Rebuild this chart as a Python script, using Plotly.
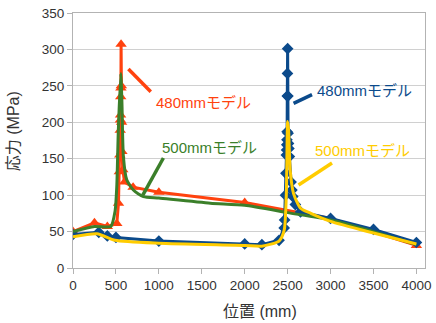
import plotly.graph_objects as go

# ---- data ----
# 480mm model, load near 560 mm (orange, triangles)
x_or = [0, 250, 400, 510, 530, 540, 545, 550, 552, 554, 556, 558, 560, 563, 566, 570, 580, 600, 700, 1000, 2000, 3000, 4000]
y_or = [50, 62, 57, 61, 89, 132, 155, 189, 203, 210, 235, 247, 307, 250, 200, 160, 135, 118, 111, 104, 90, 68, 31]

# 500mm model, load near 560 mm (green, smooth line)
x_gr = [0, 250, 440, 490, 510, 528, 556, 568, 587, 626, 703, 820, 1000, 1600, 2000, 2500, 3000, 3500, 4000]
y_gr = [50, 57, 57, 78, 112, 189, 267, 235, 153, 121, 107, 98, 96, 89, 86, 76, 66, 50, 32]

# 480mm model, load near 2500 mm (blue, diamonds)
x_bl = [0, 300, 400, 500, 1000, 2000, 2200, 2400, 2460, 2465, 2475, 2480, 2485, 2488, 2490, 2492, 2494, 2496, 2498, 2500,
        2503, 2505, 2510, 2515, 2520, 2540, 2550, 2560, 2590, 2650, 3000, 3500, 4000]
y_bl = [46, 49, 44, 42, 37, 33, 32, 38, 55, 66, 100, 130, 155, 162, 169, 176, 187, 236, 267, 301,
        236, 185, 171, 164, 153, 118, 107, 98, 87, 77, 68, 53, 35]

# 500mm model, load near 2500 mm (yellow, smooth line)
x_ye = [0, 280, 490, 1000, 2000, 2200, 2400, 2460, 2484, 2500, 2511, 2530, 2569, 2650, 2770, 3000, 3500, 4000]
y_ye = [43, 47, 38, 34, 31, 30, 37, 52, 98, 201, 189, 134, 102, 82, 75, 64, 48, 33]

c_or = "#ff420e"
c_gr = "#3b7f2a"
c_bl = "#0b4a8b"
c_ye = "#ffcc00"

# label annotations: (text, colour, text x, text y, line x0, y0, x1, y1)
labels = [
    ("480mmモデル", c_or, 945, 227, 645, 273, 906, 242),
    ("500mmモデル", c_gr, 1015, 165, 1053, 151, 813, 100),
    ("480mmモデル", c_bl, 2822, 244, 2784, 238, 2569, 226),
    ("500mmモデル", c_ye, 2795, 161, 3017, 144, 2627, 114),
]

font_main = "Liberation Sans, Noto Sans CJK JP, sans-serif"

fig = go.Figure()
fig.add_trace(go.Scatter(x=x_or, y=y_or, mode="lines+markers",
                         line=dict(color=c_or, width=3),
                         marker=dict(symbol="triangle-up", size=10, color=c_or)))
fig.add_trace(go.Scatter(x=x_bl, y=y_bl, mode="lines+markers",
                         line=dict(color=c_bl, width=3),
                         marker=dict(symbol="diamond", size=9, color=c_bl)))
fig.add_trace(go.Scatter(x=x_gr, y=y_gr, mode="lines",
                         line=dict(color=c_gr, width=3, shape="spline", smoothing=0.6)))
fig.add_trace(go.Scatter(x=x_ye, y=y_ye, mode="lines",
                         line=dict(color=c_ye, width=3, shape="spline", smoothing=0.6)))

annotations = []
shapes = []
for text, col, tx, ty, lx0, ly0, lx1, ly1 in labels:
    annotations.append(dict(x=tx, y=ty, xref="x", yref="y", text=text, showarrow=False,
                            xanchor="left", yanchor="middle",
                            font=dict(family=font_main, size=15, color=col)))
    shapes.append(dict(type="line", xref="x", yref="y", x0=lx0, y0=ly0, x1=lx1, y1=ly1,
                       line=dict(color=col, width=3.5)))

annotations.append(dict(x=0.531, y=-0.171, xref="paper", yref="paper", text="位置 (mm)",
                        showarrow=False, xanchor="center", yanchor="middle",
                        font=dict(family=font_main, size=16, color="#333333")))
annotations.append(dict(x=-0.170, y=0.537, xref="paper", yref="paper", text="応力 (MPa)",
                        showarrow=False, xanchor="center", yanchor="middle", textangle=-90,
                        font=dict(family=font_main, size=16, color="#333333")))

fig.update_layout(
    width=436, height=323,
    margin=dict(l=73, r=11, t=13, b=55, autoexpand=False),
    paper_bgcolor="white", plot_bgcolor="white",
    showlegend=False,
    annotations=annotations, shapes=shapes,
    font=dict(family=font_main, size=13.5, color="#333333"),
)
fig.update_xaxes(range=[0, 4100], tick0=0, dtick=500, showgrid=False, zeroline=False,
                 automargin=False,
                 showline=True, linecolor="#b3b3b3", linewidth=1, mirror=True,
                 ticks="outside", ticklen=5, tickcolor="#b3b3b3",
                 tickfont=dict(family=font_main, size=13.5, color="#333333"))
fig.update_yaxes(range=[0, 350], tick0=0, dtick=50, showgrid=True, gridcolor="#d0d0d0",
                 zeroline=False, automargin=False,
                 showline=True, linecolor="#b3b3b3", linewidth=1, mirror=True,
                 ticks="outside", ticklen=5, tickcolor="#b3b3b3",
                 tickfont=dict(family=font_main, size=13.5, color="#333333"))

fig.write_html("out.html")
